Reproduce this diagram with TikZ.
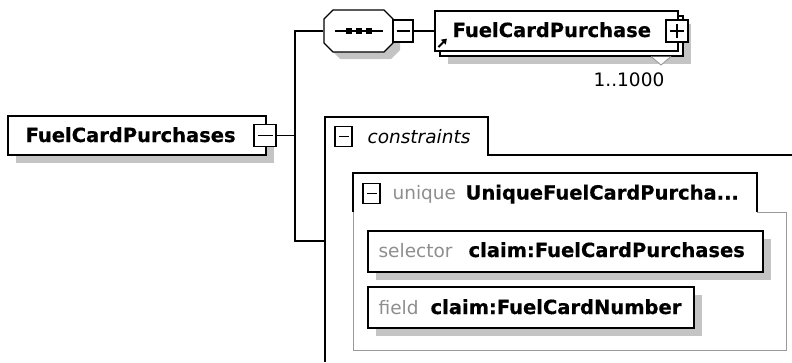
\documentclass[tikz,border=0pt]{standalone}
\usepackage{fontspec}
\setmainfont{DejaVu Sans}[BoldFeatures={FakeBold=0.6}]
\usetikzlibrary{shadows,arrows.meta}
\definecolor{shd}{HTML}{C4C4C4}
\definecolor{gtxt}{HTML}{8E8E8E}
\definecolor{gline}{HTML}{9A9A9A}
\newcommand\bfnt{\fontsize{19.5}{22}\selectfont\bfseries}
\newcommand\rfnt{\fontsize{18.5}{22}\selectfont}
\newcommand\ifnt{\fontsize{18.5}{22}\selectfont\itshape}
\begin{document}
\begin{tikzpicture}[x=1pt,y=-1pt,line width=1.2pt,
  elbox/.style={draw=black,fill=white,inner sep=0pt,
    general shadow={shadow xshift=8pt,shadow yshift=-8pt,fill=shd,opacity=1}},
  fcpbox/.style={draw=black,fill=white,inner sep=0pt,
    general shadow={shadow xshift=13pt,shadow yshift=-13pt,fill=shd,opacity=1},
    copy shadow={shadow xshift=5pt,shadow yshift=-5pt}},
  mbox/.style={draw=black,fill=white,inner sep=0pt,minimum width=17pt,minimum height=20pt,
    path picture={\draw[line width=1.2pt] ([xshift=3.5pt]path picture bounding box.west) -- ([xshift=-3.5pt]path picture bounding box.east);}},
  pbox/.style={draw=black,fill=white,inner sep=0pt,minimum width=22pt,minimum height=22pt,
    path picture={\draw[line width=1.2pt] ([xshift=4pt]path picture bounding box.west) -- ([xshift=-4pt]path picture bounding box.east);
      \draw[line width=1.2pt] ([yshift=-4pt]path picture bounding box.north) -- ([yshift=4pt]path picture bounding box.south);}},
  txt/.style={anchor=base west,inner sep=0pt},
  gray text/.style={txt,text=gtxt,font=\rfnt}
]
\useasboundingbox (0,0) rectangle (792,362);

% constraints group
\draw (792,155) -- (488,155) -- (488,117) -- (325,117) -- (325,362);
\node[mbox] (consm) at (343.5,136.5) {};
\node[txt,font=\ifnt] (constxt) at (367,143) {constraints};

% unique group
\draw[gline,line width=1pt] (757,212) -- (786,212) -- (786,350) -- (353,350) -- (353,212);
\draw (353,212) -- (353,173) -- (757,173) -- (757,212);
\node[mbox] (uniqm) at (371.5,193.3) {};
\node[gray text] (uniqkw) at (392,199.5) {unique};
\node[txt,font=\bfnt] (uniqname) at (465,199.5) {UniqueFuelCardPurcha...};

\node[elbox,minimum width=395pt,minimum height=41pt] (sel) at (565.5,251.5) {};
\node[gray text] (selkw) at (378,257) {selector};
\node[txt,font=\bfnt] (selxp) at (468,257) {claim:FuelCardPurchases};

\node[elbox,minimum width=326pt,minimum height=41pt] (fld) at (531,307.5) {};
\node[gray text] (fldkw) at (378,314) {field};
\node[txt,font=\bfnt] (fldxp) at (430,314) {claim:FuelCardNumber};

% root element
\node[elbox,minimum width=258pt,minimum height=39pt] (root) at (137,135.5) {};
\node[txt,font=\bfnt] (roottxt) at (25,142) {FuelCardPurchases};
\node[mbox,minimum width=22pt,minimum height=22pt] (rootm) at (265,135.5) {};

% sequence compositor
\fill[shd,shift={(7,7)}] (333,10) -- (384,10) -- (393,19) -- (393,43) -- (384,52) -- (333,52) -- (324,43) -- (324,19) -- cycle;
\draw[fill=white] (333,10) -- (384,10) -- (393,19) -- (393,43) -- (384,52) -- (333,52) -- (324,43) -- (324,19) -- cycle;
\node[inner sep=0pt,minimum width=69pt,minimum height=42pt] (seq) at (358.5,31) {};
\draw (335,31) -- (383,31);
\fill (346,28) rectangle (352,34);
\fill (356,28) rectangle (362,34);
\fill (366,28) rectangle (372,34);
\node[mbox,minimum width=20pt,minimum height=22pt] (seqm) at (403,31) {};

% FuelCardPurchase element
\node[fcpbox,minimum width=243pt,minimum height=40pt] (fcp) at (556.5,31) {};
\draw[gline,fill=white,line width=0.9pt] (651,56.5) -- (661,65) -- (671,56.5);
\node[txt,font=\bfnt] (fcptxt) at (452,37) {FuelCardPurchase};
\node[pbox] (fcpp) at (677,31) {};
\draw[line width=1.9pt,-{Triangle[length=5pt,width=6.5pt]}] ([shift={(4,-4.5)}]fcp.south west) -- ([shift={(12.5,-13)}]fcp.south west);
\node[anchor=base,inner sep=0pt,font=\rfnt] (card) at (629,86) {1..1000};

% connectors
\coordinate (j1) at (295,135.5);
\coordinate (consin) at (325,241);
\draw (rootm.east) -- (j1);
\draw (seq.west) -| (j1) |- (consin);
\draw (seqm.east) -- (fcp.west);
\end{tikzpicture}
\end{document}
